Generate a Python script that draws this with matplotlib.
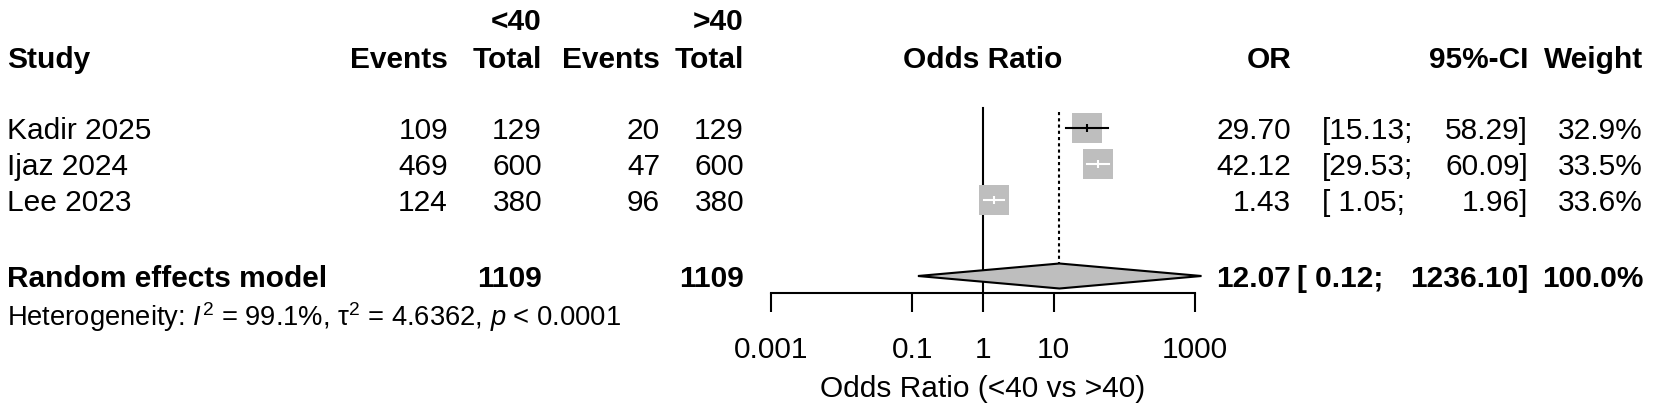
import matplotlib
matplotlib.use("Agg")
import matplotlib.pyplot as plt
from matplotlib.transforms import blended_transform_factory
import numpy as np

# ---------------- data ----------------
studies = ["Kadir 2025", "Ijaz 2024", "Lee 2023"]
events_lt40 = [109, 469, 124]
total_lt40 = [129, 600, 380]
events_gt40 = [20, 47, 96]
total_gt40 = [129, 600, 380]
odds_ratio = [29.70, 42.12, 1.43]
ci_lower = [15.13, 29.53, 1.05]
ci_upper = [58.29, 60.09, 1.96]
weight_pct = [32.9, 33.5, 33.6]

pooled_label = "Random effects model"
pooled_or = 12.07
pooled_lower = 0.12
pooled_upper = 1236.10
pooled_weight = 100.0
heterogeneity = r"Heterogeneity: $I^{2}$ = 99.1%, τ$^{2}$ = 4.6362, $p$ < 0.0001"

axis_ticks = [0.001, 0.1, 1, 10, 1000]
axis_tick_labels = ["0.001", "0.1", "1", "10", "1000"]
axis_label = "Odds Ratio (<40 vs >40)"
plot_header = "Odds Ratio"

# ---------------- style ----------------
plt.rcParams["font.family"] = ["Liberation Sans", "DejaVu Sans"]
plt.rcParams["mathtext.fontset"] = "custom"
plt.rcParams["mathtext.rm"] = "Liberation Sans"
plt.rcParams["mathtext.it"] = "Liberation Sans:italic"
plt.rcParams["mathtext.bf"] = "Liberation Sans:bold"

W, H = 1654, 411
FS = 21.5
FS_HET = FS * 11 / 12
GRAY = "#bebebe"

fig = plt.figure(figsize=(W / 100, H / 100), dpi=100)
ax_left, ax_right = 771, 1195
ax = fig.add_axes([ax_left / W, 0, (ax_right - ax_left) / W, 1])
ax.set_xscale("log")
ax.set_xlim(axis_ticks[0], axis_ticks[-1])
ax.set_ylim(H, 0)  # y in pixel rows from top
ax.patch.set_visible(False)
for s in ["left", "right", "top"]:
    ax.spines[s].set_visible(False)
axis_y = 293
ax.spines["bottom"].set_position(("data", axis_y))
ax.spines["bottom"].set_linewidth(1.5)
ax.set_yticks([])
ax.set_xticks(axis_ticks)
ax.set_xticklabels(axis_tick_labels)
ax.xaxis.set_minor_locator(matplotlib.ticker.NullLocator())
ax.tick_params(axis="x", direction="out", length=14, width=1.5, pad=17,
               labelsize=FS)

# row layout (pixel rows)
row_y = [128, 164, 200]
pooled_y = 276
het_y = 316
hdr1_y = 19
hdr2_y = 57
base_off = 10.5  # baseline below visual center

tx = blended_transform_factory(fig.transFigure, ax.transData)


def put(xpx, yc, s, ha="left", bold=False, fs=FS, **kw):
    ax.text(xpx / W, yc + base_off * fs / FS, s, transform=tx, ha=ha,
            va="baseline", fontsize=fs,
            fontweight="bold" if bold else "normal", clip_on=False, **kw)


# column x positions (pixels)
x_study = 7
x_ev1, x_tot1, x_ev2, x_tot2 = 448, 542, 660, 744
x_or = 1291
x_ci_lo_reg, x_ci_lo_bold = 1322, 1297
x_ci_hi = 1528
x_w = 1643
x_center = np.sqrt(axis_ticks[0] * axis_ticks[-1])

# headers
put(x_tot1, hdr1_y, "<40", ha="right", bold=True)
put(x_tot2, hdr1_y, ">40", ha="right", bold=True)
put(x_study, hdr2_y, "Study", bold=True)
put(x_ev1, hdr2_y, "Events", ha="right", bold=True)
put(x_tot1, hdr2_y, "Total", ha="right", bold=True)
put(x_ev2, hdr2_y, "Events", ha="right", bold=True)
put(x_tot2, hdr2_y, "Total", ha="right", bold=True)
ax.text(x_center, hdr2_y + base_off, plot_header, ha="center", va="baseline",
        fontsize=FS, fontweight="bold", clip_on=False)
put(x_or, hdr2_y, "OR", ha="right", bold=True)
put(x_ci_hi, hdr2_y, "95%-CI", ha="right", bold=True)
put(x_w, hdr2_y, "Weight", ha="right", bold=True)

# study rows
px_per_decade = (ax_right - ax_left) / np.log10(axis_ticks[-1] / axis_ticks[0])
max_w = max(weight_pct)
for i, name in enumerate(studies):
    y = row_y[i]
    put(x_study, y, name)
    put(x_ev1, y, f"{events_lt40[i]}", ha="right")
    put(x_tot1, y, f"{total_lt40[i]}", ha="right")
    put(x_ev2, y, f"{events_gt40[i]}", ha="right")
    put(x_tot2, y, f"{total_gt40[i]}", ha="right")
    put(x_or, y, f"{odds_ratio[i]:.2f}", ha="right")
    put(x_ci_lo_reg, y, f"[{ci_lower[i]:5.2f};")
    put(x_ci_hi, y, f"{ci_upper[i]:.2f}]", ha="right")
    put(x_w, y, f"{weight_pct[i]:.1f}%", ha="right")

    side_px = 30 * np.sqrt(weight_pct[i] / max_w)
    ax.plot([odds_ratio[i]], [y], marker="s", markersize=side_px * 0.72,
            markerfacecolor=GRAY, markeredgewidth=0, linestyle="none",
            clip_on=False, zorder=3)
    half_dec = side_px / 2 / px_per_decade
    inside = (np.log10(odds_ratio[i] / ci_lower[i]) < half_dec and
              np.log10(ci_upper[i] / odds_ratio[i]) < half_dec)
    col = "white" if inside else "black"
    ax.plot([ci_lower[i], ci_upper[i]], [y, y], color=col, lw=1.5,
            clip_on=False, zorder=4)
    ax.plot([odds_ratio[i]], [y], marker="|", markersize=6, color=col,
            markeredgewidth=1.5, clip_on=False, zorder=4)

# pooled row
tot1 = sum(total_lt40)
tot2 = sum(total_gt40)
put(x_study, pooled_y, pooled_label, bold=True)
put(x_tot1, pooled_y, f"{tot1}", ha="right", bold=True)
put(x_tot2, pooled_y, f"{tot2}", ha="right", bold=True)
put(x_or, pooled_y, f"{pooled_or:.2f}", ha="right", bold=True)
put(x_ci_lo_bold, pooled_y, f"[{pooled_lower:5.2f};", bold=True)
put(x_ci_hi, pooled_y, f"{pooled_upper:.2f}]", ha="right", bold=True)
put(x_w, pooled_y, f"{pooled_weight:.1f}%", ha="right", bold=True)

dh = 12.5
ax.fill([pooled_lower, pooled_or, pooled_upper, pooled_or, pooled_lower],
        [pooled_y, pooled_y - dh, pooled_y, pooled_y + dh, pooled_y],
        facecolor=GRAY, edgecolor="black", lw=1.5, clip_on=False, zorder=3)

# reference lines
ax.plot([1, 1], [108, axis_y], color="black", lw=1.5, clip_on=False, zorder=2)
ax.plot([pooled_or, pooled_or], [112, pooled_y - dh], color="black", lw=1.5,
        linestyle=(0, (1.5, 1.5)), clip_on=False, zorder=2)

# heterogeneity
put(x_study, het_y, heterogeneity, fs=FS_HET)

# axis label
ax.text(x_center, 397, axis_label, ha="center", va="baseline", fontsize=FS,
        clip_on=False)

fig.savefig("out.png", dpi=100)
